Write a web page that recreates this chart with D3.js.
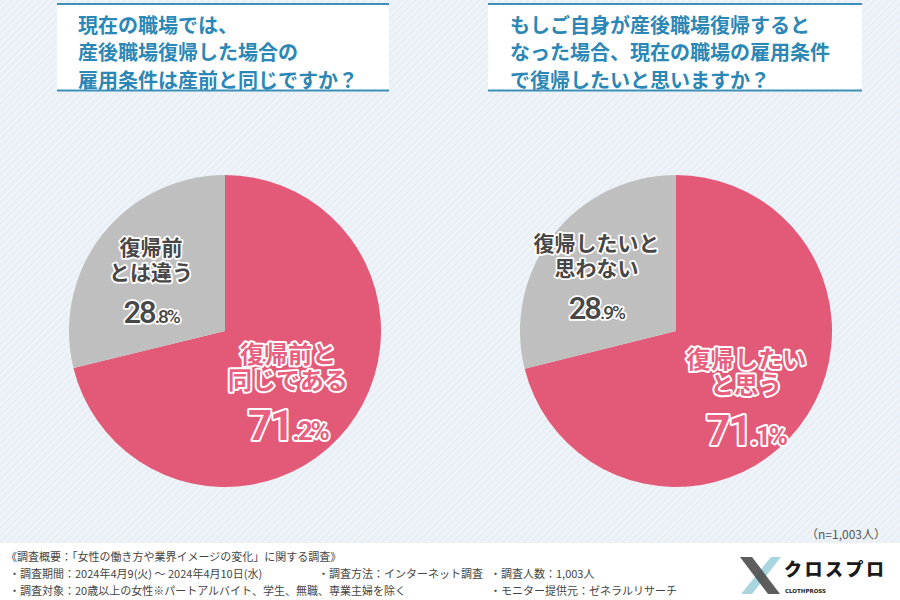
<!DOCTYPE html>
<html>
<head>
<meta charset="utf-8">
<script src="https://cdn.jsdelivr.net/npm/d3@7"></script>
<style>
  html, body { margin: 0; padding: 0; background: #fff; }
  svg { display: block; font-family: "Noto Sans CJK JP", "Noto Sans", sans-serif; }
</style>
</head>
<body>
<svg id="chart" width="900" height="600"></svg>
<script>
// ---------- data ----------
const titleLeft = ["現在の職場では、", "産後職場復帰した場合の", "雇用条件は産前と同じですか？"];
const titleRight = ["もしご自身が産後職場復帰すると", "なった場合、現在の職場の雇用条件", "で復帰したいと思いますか？"];

const categoriesLeft = ["復帰前と同じである", "復帰前とは違う"];
const valuesLeft = [71.2, 28.8];
const labelLinesLeft = [["復帰前と", "同じである"], ["復帰前", "とは違う"]];

const categoriesRight = ["復帰したいと思う", "復帰したいと思わない"];
const valuesRight = [71.1, 28.9];
const labelLinesRight = [["復帰したい", "と思う"], ["復帰したいと", "思わない"]];

const sampleNote = "（n=1,003人）";
const footerLines = [
  ["《調査概要：「女性の働き方や業界イメージの変化」に関する調査》"],
  ["・調査期間：2024年4月9(火) ～ 2024年4月10日(水)", "・調査方法：インターネット調査", "・調査人数：1,003人"],
  ["・調査対象：20歳以上の女性※パートアルバイト、学生、無職、専業主婦を除く", "", "・モニター提供元：ゼネラルリサーチ"]
];
const brandName = "クロスプロ";
const brandSub = "CLOTHPROSS";

// ---------- drawing ----------
const svg = d3.select("#chart");
const W = 900, H = 600;
const PINK = "#e35a78", GRAY = "#bfbfbf", TITLE = "#2b88b6", LINE = "#3d90b8";

const defs = svg.append("defs");
const pat = defs.append("pattern")
  .attr("id", "stripes").attr("width", 5).attr("height", 5)
  .attr("patternUnits", "userSpaceOnUse")
  .attr("patternTransform", "rotate(45)");
pat.append("rect").attr("width", 5).attr("height", 5).attr("fill", "#e7eef5");
pat.append("rect").attr("width", 2.5).attr("height", 5).attr("fill", "#f0f4f8");

svg.append("rect").attr("width", W).attr("height", H).attr("fill", "url(#stripes)");

// footer band
svg.append("rect").attr("x", 0).attr("y", 543).attr("width", W).attr("height", H - 543).attr("fill", "#ffffff");

// title boxes
function titleBox(x0, x1, lines, tx) {
  const g = svg.append("g");
  g.append("rect").attr("x", x0).attr("y", 3).attr("width", x1 - x0).attr("height", 88).attr("fill", "#ffffff");
  g.append("line").attr("x1", x0).attr("x2", x1).attr("y1", 4).attr("y2", 4).attr("stroke", LINE).attr("stroke-width", 2);
  g.append("line").attr("x1", x0).attr("x2", x1).attr("y1", 90.5).attr("y2", 90.5).attr("stroke", LINE).attr("stroke-width", 2);
  g.selectAll("text").data(lines).join("text")
    .attr("x", tx).attr("y", (d, i) => 24 + i * 27.5)
    .attr("dominant-baseline", "central")
    .attr("fill", TITLE).attr("font-size", 20).attr("font-weight", 700)
    .text(d => d);
}
titleBox(57, 389, titleLeft, 78);
titleBox(488, 862, titleRight, 510);

// pies
const R = 156;
const pie = d3.pie().sort(null).value(d => d.v);
const arc = d3.arc().innerRadius(0).outerRadius(R);

function drawPie(cx, cy, cats, vals, labels, rads) {
  const data = cats.map((c, i) => ({ c, v: vals[i], lines: labels[i], i }));
  const g = svg.append("g").attr("transform", `translate(${cx},${cy})`);
  const arcs = pie(data);
  g.selectAll("path").data(arcs).join("path")
    .attr("d", arc)
    .attr("fill", d => d.data.i === 0 ? PINK : GRAY);

  arcs.forEach(a => {
    const lr = rads[a.data.i];
    const la = d3.arc().innerRadius(lr).outerRadius(lr);
    const [lx, ly] = la.centroid(a);
    const isPink = a.data.i === 0;
    const fill = isPink ? "#e8607e" : "#474747";
    const fs = isPink ? 24 : 21;
    const gap = isPink ? 26 : 25;
    const lg = g.append("g").attr("transform", `translate(${lx},${ly})`);
    const lt = lg.append("text")
      .attr("text-anchor", "middle")
      .attr("font-size", fs).attr("font-weight", 700)
      .attr("fill", fill).attr("stroke", "#fff").attr("stroke-width", isPink ? 4 : 3.5)
      .attr("stroke-linejoin", "round").attr("paint-order", "stroke");
    a.data.lines.forEach((t, k) => {
      lt.append("tspan").attr("x", 0)
        .attr("y", (k === 0 ? -gap : 0) + fs * 0.36)
        .text(t);
    });
    const v = a.data.v.toFixed(1);
    const parts = v.split(".");
    const big = isPink ? 42 : 31, small = isPink ? 26 : 19;
    const pt = lg.append("text")
      .attr("x", 0).attr("y", (isPink ? 44 : 39) + big * 0.36)
      .attr("text-anchor", "middle")
      .attr("font-family", "Roboto, 'Noto Sans', sans-serif")
      .attr("font-weight", isPink ? 700 : 500)
      .attr("fill", fill).attr("stroke", "#fff").attr("stroke-width", isPink ? 4 : 3.5)
      .attr("stroke-linejoin", "round").attr("paint-order", "stroke")
      .attr("letter-spacing", -2);
    pt.append("tspan").attr("font-size", big).text(parts[0]);
    pt.append("tspan").attr("font-size", small).text("." + parts[1] + "%");
  });
}

drawPie(225, 331, categoriesLeft, valuesLeft, labelLinesLeft, [80, 94]);
drawPie(676, 331, categoriesRight, valuesRight, labelLinesRight, [89, 101]);

// sample note
svg.append("text").attr("x", 886).attr("y", 533)
  .attr("text-anchor", "end").attr("dominant-baseline", "central")
  .attr("font-size", 12).attr("fill", "#555").text(sampleNote);

// footer text
const colX = [9, 318, 490];
footerLines.forEach((row, r) => {
  row.forEach((t, c) => {
    if (!t) return;
    svg.append("text")
      .attr("x", r === 0 ? 6 : colX[c]).attr("y", 556 + r * 17)
      .attr("dominant-baseline", "central")
      .attr("font-size", 11).attr("fill", "#444").text(t);
  });
});

// logo
const logo = svg.append("g");
logo.append("polygon").attr("points", "771,557 781,557 752,594 741,594").attr("fill", "#a8d6e0");
logo.append("polygon").attr("points", "740,557 752,557 780,594 768,594").attr("fill", "#4b4b4b").attr("opacity", 0.9);
logo.append("text").attr("x", 784).attr("y", 568).attr("dominant-baseline", "central")
  .attr("font-size", 18).attr("font-weight", 900).attr("letter-spacing", 2.5).attr("fill", "#1a1a1a").text(brandName);
logo.append("text").attr("x", 785).attr("y", 591).attr("dominant-baseline", "central")
  .attr("font-family", "'DejaVu Sans', sans-serif")
  .attr("font-size", 5.5).attr("font-weight", 700).attr("fill", "#1a1a1a").text(brandSub);
</script>
</body>
</html>
